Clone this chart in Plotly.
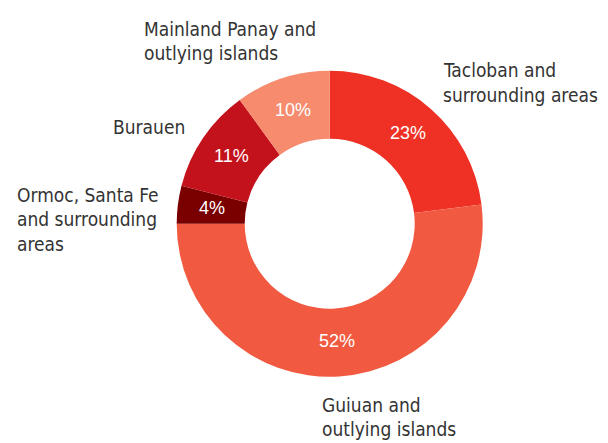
import math
import plotly.graph_objects as go

# ---- data ----
regions = [
    "Tacloban and surrounding areas",
    "Guiuan and outlying islands",
    "Ormoc, Santa Fe and surrounding areas",
    "Burauen",
    "Mainland Panay and outlying islands",
]
shares = [23, 52, 4, 11, 10]
label_lines = [
    ["Tacloban and", "surrounding areas"],
    ["Guiuan and", "outlying islands"],
    ["Ormoc, Santa Fe", "and surrounding", "areas"],
    ["Burauen"],
    ["Mainland Panay and", "outlying islands"],
]

# ---- styling / layout ----
colors = ["#EE3124", "#F15A40", "#7A0000", "#C4121C", "#F68B6E"]
OFF = 8                     # page body margin of the html page
W, H = 608 - OFF, 443 - OFF
CX, CY, R = 329.7, 223.7, 153.0   # donut centre/radius in window pixels
R_IN = 85.0
LABEL_SIZE = 19
LABEL_FONT = dict(family="DejaVu Sans Condensed, DejaVu Sans, sans-serif",
                  size=LABEL_SIZE, color="#333333")
PCT_FONT = dict(family="Liberation Sans, Arial, sans-serif", size=18, color="white")
LINE_H = 24.4
# (left x, baseline of first line) in window pixels for each label block
label_anchor = [(443, 77.3), (321.7, 411.5), (17, 201.7), (113, 134.0), (144, 35.7)]


def px(sx):
    return (sx - OFF) / W


def py(sy):
    return (H - (sy - OFF)) / H


fig = go.Figure(go.Pie(
    labels=regions,
    values=shares,
    sort=False,
    direction="clockwise",
    rotation=0,
    hole=R_IN / R,
    marker=dict(colors=colors, line=dict(width=0)),
    textinfo="none",
    domain=dict(x=[px(CX - R), px(CX + R)], y=[py(CY + R), py(CY - R)]),
    showlegend=False,
    hoverinfo="label+percent",
))

annotations = []
# category labels (one annotation per line to keep the tight leading)
for lines, (lx, by) in zip(label_lines, label_anchor):
    for i, line in enumerate(lines):
        base = by + i * LINE_H
        ycenter = base - 0.36 * LABEL_SIZE
        annotations.append(dict(
            text=line, x=px(lx - 2), y=py(ycenter), xref="paper", yref="paper",
            xanchor="left", yanchor="middle", showarrow=False, font=LABEL_FONT,
        ))

# percentage labels at the middle of each ring segment
total = sum(shares)
cum = 0.0
r_mid = (R + R_IN) / 2
for v in shares:
    mid = (cum + v / 2) / total * 2 * math.pi
    cum += v
    sx = CX + r_mid * math.sin(mid)
    sy = CY - r_mid * math.cos(mid)
    annotations.append(dict(
        text=f"{round(v / total * 100)}%", x=px(sx), y=py(sy - 1),
        xref="paper", yref="paper", xanchor="center", yanchor="middle",
        showarrow=False, font=PCT_FONT,
    ))

fig.update_layout(
    width=W, height=H,
    margin=dict(l=0, r=0, t=0, b=0),
    paper_bgcolor="white", plot_bgcolor="white",
    annotations=annotations,
)

fig.write_html("out.html")
